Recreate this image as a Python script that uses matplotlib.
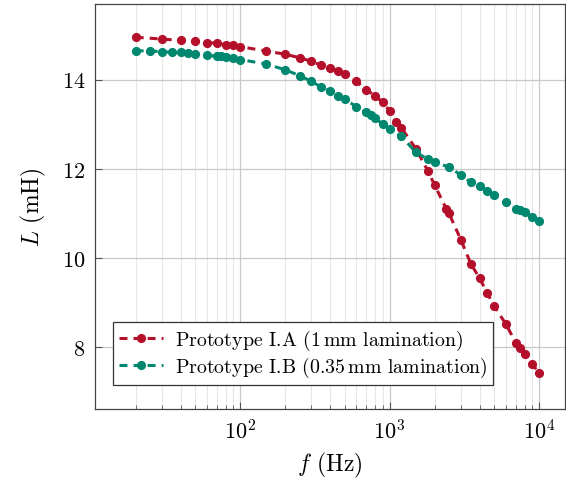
import matplotlib
matplotlib.use("Agg")
import matplotlib.pyplot as plt
from matplotlib.ticker import LogLocator, NullFormatter

plt.rcParams["font.family"] = ["cmr10", "DejaVu Serif"]
plt.rcParams["mathtext.fontset"] = "cm"
plt.rcParams["axes.formatter.use_mathtext"] = True

# Measured inductance vs. frequency
freq_a = [20, 30, 40, 50, 60, 70, 80, 90, 100,
          150, 200, 250, 300, 350, 400, 450, 500, 600, 700, 800, 900, 1000,
          1100, 1200, 1500, 1800, 2000, 2400, 2500, 3000, 3500, 4000, 4500,
          5000, 6000, 7000, 7500, 8000, 9000, 10000]
ind_a = [14.95, 14.91, 14.88, 14.86, 14.83, 14.82, 14.78, 14.77, 14.74,
         14.64, 14.57, 14.49, 14.41, 14.32, 14.26, 14.19, 14.12, 13.96, 13.77, 13.64, 13.49, 13.30,
         13.05, 12.92, 12.45, 11.96, 11.64, 11.10, 11.00, 10.41, 9.87, 9.55, 9.22,
         8.93, 8.52, 8.10, 7.98, 7.85, 7.63, 7.42]

freq_b = [20, 25, 30, 35, 40, 45, 50, 60, 70, 75, 80, 90, 100,
          150, 200, 250, 300, 350, 400, 450, 500, 600, 700, 750, 800, 900, 1000,
          1200, 1500, 1800, 2000, 2500, 3000, 3500, 4000, 4500, 5000, 6000,
          7000, 7500, 8000, 9000, 10000]
ind_b = [14.65, 14.64, 14.63, 14.61, 14.61, 14.59, 14.58, 14.55, 14.52, 14.52, 14.50, 14.48, 14.45,
         14.35, 14.22, 14.09, 13.96, 13.83, 13.75, 13.64, 13.57, 13.39, 13.27, 13.20, 13.13, 13.01, 12.89,
         12.73, 12.37, 12.22, 12.15, 12.04, 11.86, 11.70, 11.61, 11.51, 11.41, 11.25,
         11.10, 11.08, 11.03, 10.91, 10.84]

label_a = r"Prototype I.A (1$\,$mm lamination)"
label_b = r"Prototype I.B (0.35$\,$mm lamination)"
color_a = "#B5102B"
color_b = "#00876F"

fig = plt.figure(figsize=(5.66, 4.81), dpi=100)
ax = fig.add_axes([0.168, 0.148, 0.830, 0.842])

style = dict(linestyle=(0, (2.6, 2.0)), linewidth=2.2, marker="o", markersize=5.6)
ax.plot(freq_a, ind_a, color=color_a, label=label_a, **style)
ax.plot(freq_b, ind_b, color=color_b, label=label_b, **style)

ax.set_xscale("log")
ax.set_xlim(10.7, 14900)
ax.set_ylim(6.62, 15.70)
ax.set_yticks([8, 10, 12, 14])
ax.xaxis.set_major_locator(LogLocator(base=10, numticks=10))
ax.xaxis.set_minor_locator(LogLocator(base=10, subs=range(2, 10), numticks=50))
ax.xaxis.set_minor_formatter(NullFormatter())

ax.grid(True, which="major", color="#c8c8c8", linewidth=0.9)
ax.grid(True, which="minor", axis="x", color="#e6e6e6", linewidth=0.8)
ax.set_axisbelow(True)

ax.tick_params(which="both", direction="in", labelsize=16, color="#555555")
ax.tick_params(which="major", length=5, width=0.8, pad=7)
ax.tick_params(which="minor", length=3, width=0.6)
for s in ax.spines.values():
    s.set_color("#444444")
    s.set_linewidth(0.9)

ax.set_xlabel(r"$f$ (Hz)", fontsize=17, labelpad=5)
ax.set_ylabel(r"$L$ (mH)", fontsize=17, labelpad=10)

leg = ax.legend(loc="lower left", bbox_to_anchor=(0.038, 0.059), borderaxespad=0,
                fontsize=14.3, fancybox=False, edgecolor="#333333", framealpha=1,
                handlelength=2.2, handletextpad=0.6, borderpad=0.3, labelspacing=0.15,
                numpoints=1)
leg.get_frame().set_linewidth(0.9)

fig.savefig("out.png", dpi=100)
